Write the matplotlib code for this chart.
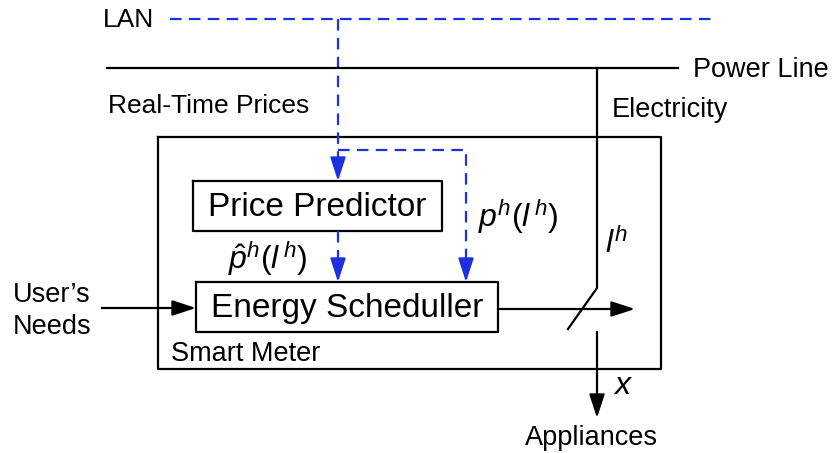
import matplotlib.pyplot as plt

plt.rcParams['font.family'] = ['Liberation Sans', 'DejaVu Sans']
plt.rcParams['mathtext.fontset'] = 'custom'
plt.rcParams['mathtext.rm'] = 'Liberation Sans'
plt.rcParams['mathtext.it'] = 'Liberation Sans:italic'

blue = '#1b30e0'

# boxes: (label, left, top, right, bottom)
box_names = ['Price Predictor', 'Energy Scheduller']
box_left = [193, 196]
box_top = [181, 282]
box_right = [442, 498]
box_bottom = [231, 332]
meter = [158, 137, 661, 369]

# plain labels: (text, x, baseline y, size)
label_text = ['LAN', 'Real-Time Prices', 'Power Line', 'Electricity',
              'Smart Meter', "User\u2019s", 'Needs', 'Appliances']
label_x = [103, 108, 693, 612, 171, 13, 13, 525]
label_y = [27, 113, 77, 117, 361, 302, 334, 445]
label_size = [19, 19, 19.5, 19.5, 19.5, 19.5, 19.5, 19.5]

# math labels
math_text = [r'$\hat{p}^{h}(l^{\,h})$', r'$p^{h}(l^{\,h})$', r'$l^{h}$', r'$x$']
math_x = [268, 518, 616, 623]
math_y = [259, 217, 244, 386]

fig = plt.figure(figsize=(8.32, 4.53), dpi=100)
ax = fig.add_axes([0, 0, 1, 1])
ax.set_xlim(0, 832)
ax.set_ylim(453, 0)
ax.axis('off')

lw = 1.6
dash = (5.2, 3.3)


def head(x0, y0, x1, y1, color):
    ax.annotate('', xy=(x1, y1), xytext=(x0, y0),
                arrowprops=dict(arrowstyle='-|>,head_length=0.72,head_width=0.235',
                                mutation_scale=20, color=color, lw=lw,
                                shrinkA=0, shrinkB=0))


# smart meter box
ax.plot([meter[0], meter[2], meter[2], meter[0], meter[0]],
        [meter[1], meter[1], meter[3], meter[3], meter[1]], color='k', lw=lw)
for i in range(len(box_names)):
    l, t, r, b = box_left[i], box_top[i], box_right[i], box_bottom[i]
    ax.plot([l, r, r, l, l], [t, t, b, b, t], color='k', lw=lw)
    ax.text((l + r) / 2, b - 15, box_names[i], fontsize=24, ha='center', va='baseline')

# LAN and price paths (dashed blue)
ax.plot([170, 712], [19, 19], color=blue, lw=lw, dashes=dash)
ax.plot([338, 338], [19, 165], color=blue, lw=lw, dashes=dash)
ax.plot([338, 466, 466], [150, 150, 265], color=blue, lw=lw, dashes=dash)
ax.plot([338, 338], [231, 265], color=blue, lw=lw, dashes=dash)
head(338, 165, 338, 181, blue)
head(338, 262, 338, 282, blue)
head(466, 262, 466, 282, blue)

# power line and electricity switch
ax.plot([107, 678], [68, 68], color='k', lw=lw)
ax.plot([597, 597, 568], [68, 288, 329], color='k', lw=lw)
ax.plot([597, 597], [332, 400], color='k', lw=lw)
head(597, 398, 597, 418, 'k')

# user's needs arrow and output arrow
ax.plot([102, 180], [308, 308], color='k', lw=lw)
head(178, 308, 196, 308, 'k')
ax.plot([498, 618], [309, 309], color='k', lw=lw)
head(615, 309, 635, 309, 'k')

for t, x, y, s in zip(label_text, label_x, label_y, label_size):
    ax.text(x, y, t, fontsize=s, ha='left', va='baseline')

for t, x, y in zip(math_text, math_x, math_y):
    ax.text(x, y, t, fontsize=23, ha='center', va='center')

fig.savefig('out.png', dpi=100)
